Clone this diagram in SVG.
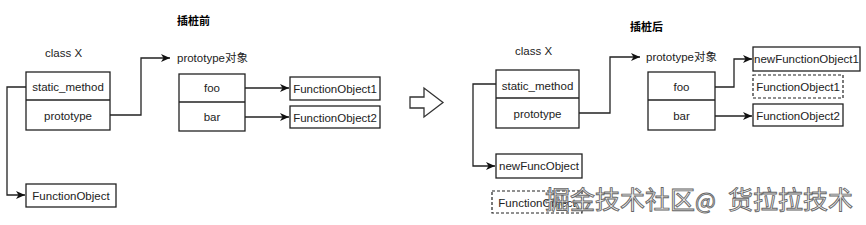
<svg xmlns="http://www.w3.org/2000/svg" width="866" height="225" viewBox="0 0 866 225">
<defs>
<marker id="ah" markerWidth="10" markerHeight="8" refX="9" refY="4" orient="auto" markerUnits="userSpaceOnUse">
<path d="M0,0 L9,4 L0,8 L2.5,4 z" fill="#111"/>
</marker>
<style>
.box{fill:#fff;stroke:#222;stroke-width:1.3}
.dbox{fill:#fff;stroke:#222;stroke-width:1.2;stroke-dasharray:3 2}
.t{font-family:"Liberation Sans","Noto Sans CJK SC",Arial,sans-serif;font-size:11.5px;fill:#222}
.c{text-anchor:middle}
.ttl{font-family:"Noto Sans CJK SC","Liberation Sans",sans-serif;font-size:11px;font-weight:bold;fill:#000}
.ln{fill:none;stroke:#222;stroke-width:1.3}
.wm{font-family:"Noto Sans CJK SC","Liberation Sans",sans-serif;font-size:25px;fill:#f4f4f4;stroke:#666;stroke-width:0.9}
</style>
</defs>
<rect width="866" height="225" fill="#fff"/>

<g id="before">
<text class="ttl" x="177" y="25">插桩前</text>
<g id="classX1">
<text class="t" x="45" y="57">class X</text>
<rect class="box" x="26" y="72" width="84" height="58"/>
<line class="ln" x1="26" y1="100" x2="110" y2="100"/>
<text class="t c" x="68" y="91">static_method</text>
<text class="t c" x="68" y="120">prototype</text>
</g>
<g id="funcObj"><rect class="box" x="26" y="184" width="90" height="23"/><text class="t c" x="71" y="200">FunctionObject</text></g>
<g id="proto1">
<text class="t" x="177" y="62">prototype对象</text>
<rect class="box" x="179" y="74" width="66" height="57"/>
<line class="ln" x1="179" y1="102" x2="245" y2="102"/>
<text class="t c" x="212" y="92">foo</text>
<text class="t c" x="212" y="121">bar</text>
</g>
<g id="fo1"><rect class="box" x="290" y="77" width="90" height="23"/><text class="t c" x="335" y="93">FunctionObject1</text></g>
<g id="fo2"><rect class="box" x="290" y="106" width="90" height="22"/><text class="t c" x="335" y="122">FunctionObject2</text></g>
</g>

<g id="bigArrow">
<path d="M410,97 L424,97 L424,88 L443,102.5 L424,117 L424,108 L410,108 Z" fill="#fff" stroke="#333" stroke-width="1.3"/>
</g>

<g id="after">
<text class="ttl" x="630" y="31">插桩后</text>
<g id="classX2">
<text class="t" x="515" y="55">class X</text>
<rect class="box" x="496" y="70" width="83" height="58"/>
<line class="ln" x1="496" y1="98" x2="579" y2="98"/>
<text class="t c" x="537.5" y="90">static_method</text>
<text class="t c" x="537.5" y="118">prototype</text>
</g>
<g id="newFuncObj"><rect class="box" x="496" y="154" width="86" height="24"/><text class="t c" x="539" y="170">newFuncObject</text></g>
<g id="oldFuncObj"><rect class="dbox" x="492" y="191" width="90" height="22"/><text class="t c" x="537" y="207">FunctionObject</text></g>
<g id="proto2">
<text class="t" x="646" y="61">prototype对象</text>
<rect class="box" x="648" y="72" width="67" height="58"/>
<line class="ln" x1="648" y1="100" x2="715" y2="100"/>
<text class="t c" x="681.5" y="91">foo</text>
<text class="t c" x="681.5" y="120">bar</text>
</g>
<g id="newFo1"><rect class="box" x="753" y="47" width="107" height="24"/><text class="t c" x="806.5" y="63">newFunctionObject1</text></g>
<g id="oldFo1"><rect class="dbox" x="753" y="75" width="90" height="23"/><text class="t c" x="798" y="91">FunctionObject1</text></g>
<g id="fo2b"><rect class="box" x="753" y="104" width="90" height="22"/><text class="t c" x="798" y="120">FunctionObject2</text></g>
</g>

<g id="connectors">
<polyline class="ln" points="26,87 7,87 7,195 25,195" marker-end="url(#ah)"/>
<polyline class="ln" points="110,115 141,115 141,58 170,58" marker-end="url(#ah)"/>
<line class="ln" x1="245" y1="88" x2="289" y2="88" marker-end="url(#ah)"/>
<line class="ln" x1="245" y1="117" x2="289" y2="117" marker-end="url(#ah)"/>
<polyline class="ln" points="496,84 473,84 473,166 495,166" marker-end="url(#ah)"/>
<polyline class="ln" points="579,113 610,113 610,57 640,57" marker-end="url(#ah)"/>
<polyline class="ln" points="715,87 734,87 734,59 752,59" marker-end="url(#ah)"/>
<line class="ln" x1="715" y1="116" x2="752" y2="116" marker-end="url(#ah)"/>
</g>

<g id="watermark">
<text class="wm" x="545" y="209">掘金技术社区</text>
<text class="wm" x="695" y="209" style="font-size:22px">@</text>
<text class="wm" x="728" y="209">货拉拉技术</text>
</g>
</svg>
